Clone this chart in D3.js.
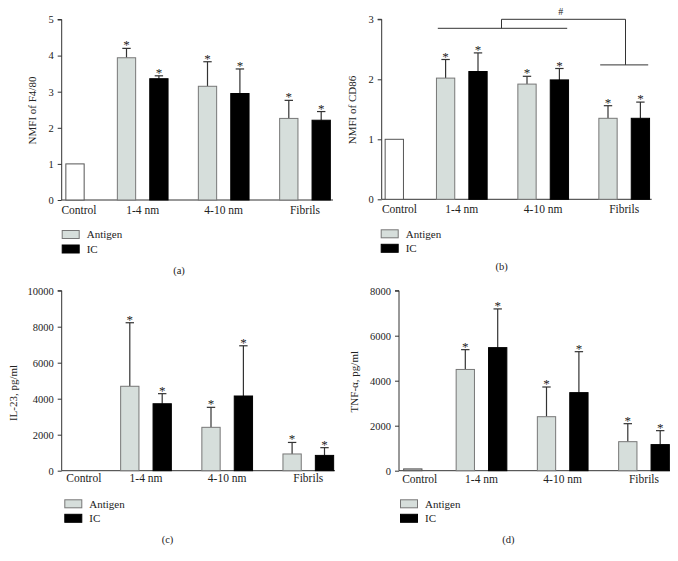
<!DOCTYPE html>
<html><head><meta charset="utf-8">
<script src="https://cdn.jsdelivr.net/npm/d3@7"></script>
<style>
body{margin:0;background:#fff;}
text{font-family:"Liberation Serif","Times New Roman",serif;fill:#222;}
</style></head>
<body><svg id="c" width="678" height="561"></svg>
<script>
// ---- data ----
const categories = ["Control", "1-4 nm", "4-10 nm", "Fibrils"];
const groups = ["1-4 nm", "4-10 nm", "Fibrils"];
const seriesNames = ["Antigen", "IC"];

const f480Control = 1;
const f480Antigen = [3.94, 3.15, 2.26];
const f480AntigenErr = [0.26, 0.68, 0.50];
const f480IC = [3.36, 2.95, 2.21];
const f480ICErr = [0.08, 0.68, 0.24];
const f480Ticks = [0, 1, 2, 3, 4, 5];

const cd86Control = 1;
const cd86Antigen = [2.02, 1.92, 1.35];
const cd86AntigenErr = [0.31, 0.13, 0.21];
const cd86IC = [2.13, 1.99, 1.35];
const cd86ICErr = [0.31, 0.19, 0.27];
const cd86Ticks = [0, 1, 2, 3];

const il23Control = 0;
const il23Antigen = [4690, 2410, 930];
const il23AntigenErr = [3530, 1110, 640];
const il23IC = [3720, 4150, 850];
const il23ICErr = [560, 2790, 430];
const il23Ticks = [0, 2000, 4000, 6000, 8000, 10000];

const tnfControl = 80;
const tnfAntigen = [4500, 2400, 1290];
const tnfAntigenErr = [880, 1320, 800];
const tnfIC = [5470, 3470, 1160];
const tnfICErr = [1720, 1820, 620];
const tnfTicks = [0, 2000, 4000, 6000, 8000];

// ---- layout ----
const svg = d3.select("#c");
const panels = [
  {id:"(a)", label:"NMFI of F4/80", control:f480Control, ant:f480Antigen, antE:f480AntigenErr, ic:f480IC, icE:f480ICErr, ticks:f480Ticks,
   ax:61.7, axEnd:333, y0:200, y1:19.5, ctl:13.3, ctlLab:17.3, g:[81,162,243.3], ylx:32, yly:110.5, catY:214,
   leg:[61.7,230,86.7], cap:[179,270]},
  {id:"(b)", label:"NMFI of CD86", control:cd86Control, ant:cd86Antigen, antE:cd86AntigenErr, ic:cd86IC, icE:cd86ICErr, ticks:cd86Ticks,
   ax:381.7, axEnd:651.7, y0:199.3, y1:19.3, ctl:12.6, ctlLab:17.8, g:[80.1,161.5,242.5], ylx:352.3, yly:110, catY:213.3,
   leg:[380.7,229.3,405.7], cap:[501.7,266]},
  {id:"(c)", label:"IL-23, pg/ml", control:il23Control, ant:il23Antigen, antE:il23AntigenErr, ic:il23IC, icE:il23ICErr, ticks:il23Ticks,
   ax:61.7, axEnd:335, y0:470.7, y1:290.7, ctl:13.5, ctlLab:22.1, g:[84.3,165.5,246.6], ylx:13.3, yly:393, catY:481.7,
   leg:[64.3,499.3,89.3], cap:[167.5,539]},
  {id:"(d)", label:"TNF-α, pg/ml", control:tnfControl, ant:tnfAntigen, antE:tnfAntigenErr, ic:tnfIC, icE:tnfICErr, ticks:tnfTicks,
   ax:399, axEnd:670, y0:470.7, y1:290.7, ctl:13.8, ctlLab:20.7, g:[82.5,163.7,245], ylx:354, yly:381.7, catY:482.7,
   leg:[400,499.3,425], cap:[508.3,539]}
];

const barW = 18.3;
const antFill = "#d6dedb", antStroke = "#777", icFill = "#000";
const lineCol = "#333";

panels.forEach(p => {
  const g = svg.append("g");
  const y = d3.scaleLinear().domain([0, d3.max(p.ticks)]).range([p.y0, p.y1]);
  const x = d3.scaleOrdinal().domain(categories).range([p.ax + p.ctl].concat(p.g.map(v => p.ax + v)));
  const xLab = d3.scaleOrdinal().domain(categories).range([p.ax + p.ctlLab].concat(p.g.map(v => p.ax + v)));
  const sub = d3.scaleBand().domain(seriesNames).range([-27, 27]).paddingInner(9/27).paddingOuter(0);

  // y axis
  const yAxis = d3.axisLeft(y).tickValues(p.ticks).tickSize(4).tickPadding(4).tickFormat(d3.format("d"));
  const ya = g.append("g").attr("transform", `translate(${p.ax},0)`).call(yAxis);
  ya.select(".domain").attr("stroke", lineCol).attr("d", `M-4,${p.y1}H0V${p.y0}`);
  ya.selectAll(".tick line").attr("stroke", lineCol);
  ya.selectAll(".tick text").style("font-family", '"Liberation Serif",serif').style("font-size", "10.5px").attr("fill", "#222");
  g.append("line").attr("x1", p.ax).attr("x2", p.axEnd).attr("y1", p.y0).attr("y2", p.y0).attr("stroke", lineCol).attr("stroke-width", 1);

  g.selectAll(".cat").data(categories).enter().append("text")
    .attr("x", d => xLab(d)).attr("y", p.catY).attr("text-anchor", "middle")
    .style("font-size", "11.5px").text(d => d);

  if (p.control > 0) {
    g.append("rect").attr("x", x("Control") - barW/2).attr("width", barW)
      .attr("y", y(p.control)).attr("height", p.y0 - y(p.control))
      .attr("fill", p.control > 10 ? "#bbb" : "#fff").attr("stroke", "#555").attr("stroke-width", 1);
  }

  const rows = [];
  groups.forEach((c, i) => {
    rows.push({cat:c, s:"Antigen", v:p.ant[i], e:p.antE[i]});
    rows.push({cat:c, s:"IC", v:p.ic[i], e:p.icE[i]});
  });
  const cx = d => x(d.cat) + sub(d.s) + sub.bandwidth()/2;
  rows.forEach(d => {
    const xc = cx(d), top = y(d.v + d.e);
    g.append("line").attr("x1", xc).attr("x2", xc).attr("y1", y(d.v)).attr("y2", top).attr("stroke", lineCol).attr("stroke-width", 1.2);
    g.append("line").attr("x1", xc - 4.2).attr("x2", xc + 4.2).attr("y1", top).attr("y2", top).attr("stroke", lineCol).attr("stroke-width", 1.2);
    g.append("text").attr("x", xc).attr("y", top + 1).attr("text-anchor", "middle").style("font-size", "13px").attr("fill", "#555").text("*");
  });
  g.selectAll(".bar").data(rows).enter().append("rect")
    .attr("x", d => cx(d) - barW/2).attr("width", barW)
    .attr("y", d => y(d.v)).attr("height", d => p.y0 - y(d.v))
    .attr("fill", d => d.s === "Antigen" ? antFill : icFill)
    .attr("stroke", d => d.s === "Antigen" ? antStroke : "#000").attr("stroke-width", 1);

  g.append("text").attr("transform", `translate(${p.ylx},${p.yly}) rotate(-90)`).attr("text-anchor", "middle")
    .attr("dy", "0.35em").style("font-size", "11px").text(p.label);

  seriesNames.forEach((s, i) => {
    const ly = p.leg[1] + i * 14.5;
    g.append("rect").attr("x", p.leg[0] + 0.5).attr("y", ly + 0.5).attr("width", 17).attr("height", 8)
      .attr("fill", s === "Antigen" ? antFill : icFill).attr("stroke", s === "Antigen" ? antStroke : "#000");
    g.append("text").attr("x", p.leg[2]).attr("y", ly + 4.5).attr("dy", "0.35em").style("font-size", "11px").text(s);
  });

  g.append("text").attr("x", p.cap[0]).attr("y", p.cap[1]).attr("dy", "0.35em").attr("text-anchor", "middle").style("font-size", "10.5px").text(p.id);

  if (p.id === "(b)") {
    const yTopLine = y(2.85), yTop = y(3), yRight = y(2.24);
    const left = x("1-4 nm") - 24, right = x("4-10 nm") + 24;
    const mid = (x("1-4 nm") + x("4-10 nm")) / 2 - 1;
    const fx = x("Fibrils");
    const path = `M${left},${yTopLine}H${right}M${mid},${yTopLine}V${yTop}H${fx + 1.3}V${yRight}M${fx - 24},${yRight}H${fx + 24}`;
    g.append("path").attr("d", path).attr("fill", "none").attr("stroke", lineCol).attr("stroke-width", 1);
    g.append("text").attr("x", (mid + fx) / 2 - 2).attr("y", yTop - 4).attr("text-anchor", "middle").style("font-size", "10px").text("#");
  }
});
</script>
</body></html>
